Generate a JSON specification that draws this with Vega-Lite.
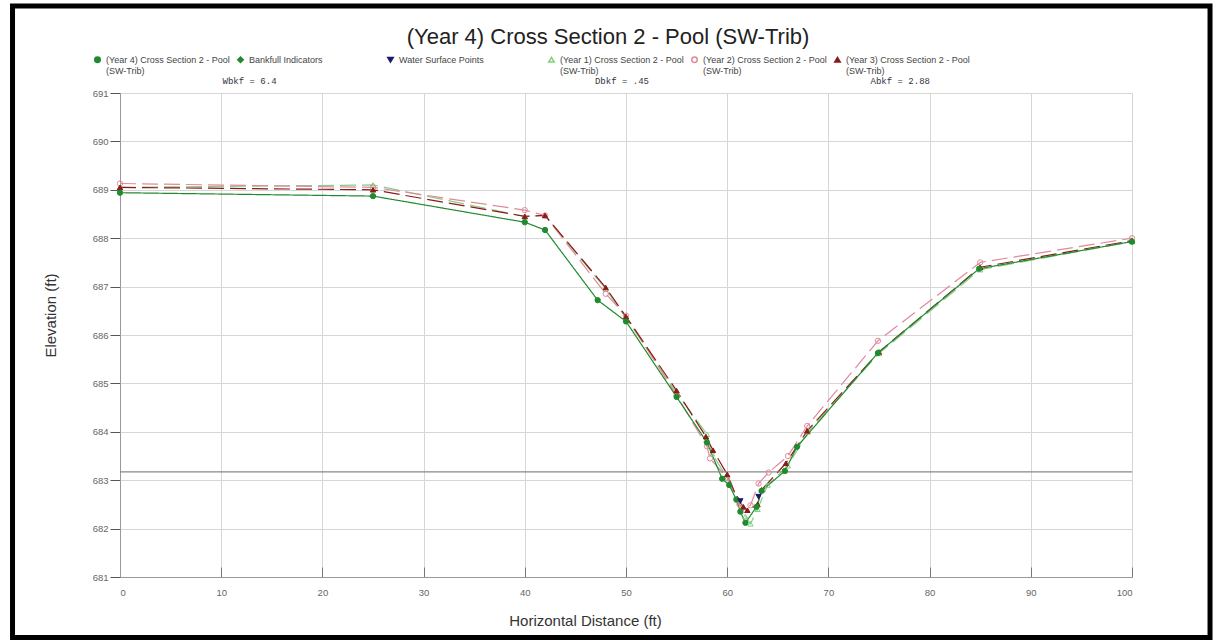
{
  "$schema": "https://vega.github.io/schema/vega-lite/v6.json",
  "width": 1012,
  "height": 484,
  "autosize": {"type": "none"},
  "padding": {"left": 120, "top": 93, "right": 86, "bottom": 65},
  "background": "white",
  "config": {"view": {"stroke": null}, "font": "Liberation Sans"},
  "title": {"text": "(Year 4) Cross Section 2 - Pool (SW-Trib)", "fontSize": 22, "fontWeight": "normal", "color": "#222", "offset": -46, "dx": -18, "anchor": "middle"},
  "datasets": {
    "pts": [
      {"series": "(Year 1) Cross Section 2 - Pool (SW-Trib)", "dist": 0, "elev": 689.05},
      {"series": "(Year 1) Cross Section 2 - Pool (SW-Trib)", "dist": 25, "elev": 689.1},
      {"series": "(Year 1) Cross Section 2 - Pool (SW-Trib)", "dist": 40, "elev": 688.45},
      {"series": "(Year 1) Cross Section 2 - Pool (SW-Trib)", "dist": 42, "elev": 688.47},
      {"series": "(Year 1) Cross Section 2 - Pool (SW-Trib)", "dist": 48, "elev": 686.95},
      {"series": "(Year 1) Cross Section 2 - Pool (SW-Trib)", "dist": 50, "elev": 686.35},
      {"series": "(Year 1) Cross Section 2 - Pool (SW-Trib)", "dist": 55, "elev": 684.8},
      {"series": "(Year 1) Cross Section 2 - Pool (SW-Trib)", "dist": 58, "elev": 683.95},
      {"series": "(Year 1) Cross Section 2 - Pool (SW-Trib)", "dist": 58.5, "elev": 683.55},
      {"series": "(Year 1) Cross Section 2 - Pool (SW-Trib)", "dist": 60, "elev": 683.05},
      {"series": "(Year 1) Cross Section 2 - Pool (SW-Trib)", "dist": 61, "elev": 682.6},
      {"series": "(Year 1) Cross Section 2 - Pool (SW-Trib)", "dist": 61.8, "elev": 682.25},
      {"series": "(Year 1) Cross Section 2 - Pool (SW-Trib)", "dist": 62.3, "elev": 682.1},
      {"series": "(Year 1) Cross Section 2 - Pool (SW-Trib)", "dist": 63, "elev": 682.4},
      {"series": "(Year 1) Cross Section 2 - Pool (SW-Trib)", "dist": 64, "elev": 682.9},
      {"series": "(Year 1) Cross Section 2 - Pool (SW-Trib)", "dist": 66, "elev": 683.3},
      {"series": "(Year 1) Cross Section 2 - Pool (SW-Trib)", "dist": 68, "elev": 684.0},
      {"series": "(Year 1) Cross Section 2 - Pool (SW-Trib)", "dist": 75, "elev": 685.62},
      {"series": "(Year 1) Cross Section 2 - Pool (SW-Trib)", "dist": 85, "elev": 687.35},
      {"series": "(Year 1) Cross Section 2 - Pool (SW-Trib)", "dist": 100, "elev": 687.93},
      {"series": "(Year 2) Cross Section 2 - Pool (SW-Trib)", "dist": 0, "elev": 689.13},
      {"series": "(Year 2) Cross Section 2 - Pool (SW-Trib)", "dist": 25, "elev": 689.05},
      {"series": "(Year 2) Cross Section 2 - Pool (SW-Trib)", "dist": 40, "elev": 688.58},
      {"series": "(Year 2) Cross Section 2 - Pool (SW-Trib)", "dist": 42, "elev": 688.47},
      {"series": "(Year 2) Cross Section 2 - Pool (SW-Trib)", "dist": 48, "elev": 686.85},
      {"series": "(Year 2) Cross Section 2 - Pool (SW-Trib)", "dist": 50, "elev": 686.4},
      {"series": "(Year 2) Cross Section 2 - Pool (SW-Trib)", "dist": 55, "elev": 684.75},
      {"series": "(Year 2) Cross Section 2 - Pool (SW-Trib)", "dist": 58, "elev": 683.7},
      {"series": "(Year 2) Cross Section 2 - Pool (SW-Trib)", "dist": 58.3, "elev": 683.45},
      {"series": "(Year 2) Cross Section 2 - Pool (SW-Trib)", "dist": 60, "elev": 683.05},
      {"series": "(Year 2) Cross Section 2 - Pool (SW-Trib)", "dist": 61.2, "elev": 682.5},
      {"series": "(Year 2) Cross Section 2 - Pool (SW-Trib)", "dist": 61.6, "elev": 682.38},
      {"series": "(Year 2) Cross Section 2 - Pool (SW-Trib)", "dist": 62.3, "elev": 682.48},
      {"series": "(Year 2) Cross Section 2 - Pool (SW-Trib)", "dist": 63.1, "elev": 682.93},
      {"series": "(Year 2) Cross Section 2 - Pool (SW-Trib)", "dist": 64.1, "elev": 683.16},
      {"series": "(Year 2) Cross Section 2 - Pool (SW-Trib)", "dist": 66, "elev": 683.5},
      {"series": "(Year 2) Cross Section 2 - Pool (SW-Trib)", "dist": 67.9, "elev": 684.12},
      {"series": "(Year 2) Cross Section 2 - Pool (SW-Trib)", "dist": 74.9, "elev": 685.88},
      {"series": "(Year 2) Cross Section 2 - Pool (SW-Trib)", "dist": 85, "elev": 687.5},
      {"series": "(Year 2) Cross Section 2 - Pool (SW-Trib)", "dist": 100, "elev": 688.0},
      {"series": "(Year 3) Cross Section 2 - Pool (SW-Trib)", "dist": 0, "elev": 689.05},
      {"series": "(Year 3) Cross Section 2 - Pool (SW-Trib)", "dist": 25, "elev": 689.0},
      {"series": "(Year 3) Cross Section 2 - Pool (SW-Trib)", "dist": 40, "elev": 688.45},
      {"series": "(Year 3) Cross Section 2 - Pool (SW-Trib)", "dist": 42, "elev": 688.47},
      {"series": "(Year 3) Cross Section 2 - Pool (SW-Trib)", "dist": 48, "elev": 686.98},
      {"series": "(Year 3) Cross Section 2 - Pool (SW-Trib)", "dist": 50, "elev": 686.38},
      {"series": "(Year 3) Cross Section 2 - Pool (SW-Trib)", "dist": 55, "elev": 684.85},
      {"series": "(Year 3) Cross Section 2 - Pool (SW-Trib)", "dist": 57.9, "elev": 683.9},
      {"series": "(Year 3) Cross Section 2 - Pool (SW-Trib)", "dist": 58.6, "elev": 683.62},
      {"series": "(Year 3) Cross Section 2 - Pool (SW-Trib)", "dist": 60, "elev": 683.12},
      {"series": "(Year 3) Cross Section 2 - Pool (SW-Trib)", "dist": 61, "elev": 682.62},
      {"series": "(Year 3) Cross Section 2 - Pool (SW-Trib)", "dist": 61.6, "elev": 682.45},
      {"series": "(Year 3) Cross Section 2 - Pool (SW-Trib)", "dist": 62, "elev": 682.38},
      {"series": "(Year 3) Cross Section 2 - Pool (SW-Trib)", "dist": 63, "elev": 682.5},
      {"series": "(Year 3) Cross Section 2 - Pool (SW-Trib)", "dist": 63.4, "elev": 682.8},
      {"series": "(Year 3) Cross Section 2 - Pool (SW-Trib)", "dist": 65.8, "elev": 683.35},
      {"series": "(Year 3) Cross Section 2 - Pool (SW-Trib)", "dist": 67.9, "elev": 684.02},
      {"series": "(Year 3) Cross Section 2 - Pool (SW-Trib)", "dist": 75, "elev": 685.65},
      {"series": "(Year 3) Cross Section 2 - Pool (SW-Trib)", "dist": 85, "elev": 687.4},
      {"series": "(Year 3) Cross Section 2 - Pool (SW-Trib)", "dist": 100, "elev": 687.95},
      {"series": "(Year 4) Cross Section 2 - Pool (SW-Trib)", "dist": 0, "elev": 688.94},
      {"series": "(Year 4) Cross Section 2 - Pool (SW-Trib)", "dist": 25, "elev": 688.87},
      {"series": "(Year 4) Cross Section 2 - Pool (SW-Trib)", "dist": 40, "elev": 688.33},
      {"series": "(Year 4) Cross Section 2 - Pool (SW-Trib)", "dist": 42, "elev": 688.17},
      {"series": "(Year 4) Cross Section 2 - Pool (SW-Trib)", "dist": 47.2, "elev": 686.72},
      {"series": "(Year 4) Cross Section 2 - Pool (SW-Trib)", "dist": 50, "elev": 686.28},
      {"series": "(Year 4) Cross Section 2 - Pool (SW-Trib)", "dist": 55, "elev": 684.72},
      {"series": "(Year 4) Cross Section 2 - Pool (SW-Trib)", "dist": 58, "elev": 683.78},
      {"series": "(Year 4) Cross Section 2 - Pool (SW-Trib)", "dist": 59.5, "elev": 683.03},
      {"series": "(Year 4) Cross Section 2 - Pool (SW-Trib)", "dist": 60.2, "elev": 682.9},
      {"series": "(Year 4) Cross Section 2 - Pool (SW-Trib)", "dist": 60.9, "elev": 682.6},
      {"series": "(Year 4) Cross Section 2 - Pool (SW-Trib)", "dist": 61.3, "elev": 682.35},
      {"series": "(Year 4) Cross Section 2 - Pool (SW-Trib)", "dist": 61.8, "elev": 682.12},
      {"series": "(Year 4) Cross Section 2 - Pool (SW-Trib)", "dist": 62.9, "elev": 682.45},
      {"series": "(Year 4) Cross Section 2 - Pool (SW-Trib)", "dist": 63.4, "elev": 682.78},
      {"series": "(Year 4) Cross Section 2 - Pool (SW-Trib)", "dist": 65.7, "elev": 683.19},
      {"series": "(Year 4) Cross Section 2 - Pool (SW-Trib)", "dist": 66.9, "elev": 683.69},
      {"series": "(Year 4) Cross Section 2 - Pool (SW-Trib)", "dist": 74.9, "elev": 685.63},
      {"series": "(Year 4) Cross Section 2 - Pool (SW-Trib)", "dist": 84.9, "elev": 687.37},
      {"series": "(Year 4) Cross Section 2 - Pool (SW-Trib)", "dist": 100, "elev": 687.93},
      {"series": "Water Surface Points", "dist": 61.3, "elev": 682.57},
      {"series": "Water Surface Points", "dist": 63.1, "elev": 682.66}
    ],
    "notes": [
      {"label": "Wbkf = 6.4", "dist": 12.8, "elev": 691.24},
      {"label": "Dbkf = .45", "dist": 49.6, "elev": 691.24},
      {"label": "Abkf = 2.88", "dist": 77.1, "elev": 691.24}
    ],
    "one": [{}]
  },
  "layer": [
    {
      "data": {"name": "pts"},
      "transform": [{"filter": "datum.series != 'Water Surface Points'"}],
      "mark": {"type": "line", "strokeWidth": 1.2},
      "encoding": {
        "x": {"field": "dist", "type": "quantitative", "scale": {"domain": [0, 100], "nice": false, "zero": false},
          "axis": {"values": [0,10,20,30,40,50,60,70,80,90,100], "grid": true, "gridColor": "#d6d6d6", "domainColor": "#999", "tickColor": "#777", "tickSize": -10, "labelPadding": 20, "labelColor": "#666", "labelFontSize": 9.5, "title": "Horizontal Distance (ft)", "titleFontSize": 15, "titleFontWeight": "normal", "titleColor": "#333", "titleX": 465, "titleY": 48, "titleBaseline": "alphabetic"}},
        "y": {"field": "elev", "type": "quantitative", "scale": {"domain": [681, 691], "nice": false, "zero": false},
          "axis": {"values": [681,682,683,684,685,686,687,688,689,690,691], "grid": true, "gridColor": "#d6d6d6", "domainColor": "#999", "tickColor": "#555", "tickSize": 10, "labelPadding": 2, "labelColor": "#666", "labelFontSize": 9.5, "title": "Elevation (ft)", "titleFontSize": 15, "titleFontWeight": "normal", "titleColor": "#333", "titleX": -70, "titleY": 222, "titleBaseline": "middle"}},
        "color": {"field": "series", "type": "nominal", "legend": null,
          "scale": {"domain": ["(Year 4) Cross Section 2 - Pool (SW-Trib)", "(Year 1) Cross Section 2 - Pool (SW-Trib)", "(Year 2) Cross Section 2 - Pool (SW-Trib)", "(Year 3) Cross Section 2 - Pool (SW-Trib)"],
            "range": ["#1f8a2e", "#86d086", "#e08a9a", "#8b1a1a"]}},
        "strokeDash": {"field": "series", "type": "nominal", "legend": null,
          "scale": {"domain": ["(Year 4) Cross Section 2 - Pool (SW-Trib)", "(Year 1) Cross Section 2 - Pool (SW-Trib)", "(Year 2) Cross Section 2 - Pool (SW-Trib)", "(Year 3) Cross Section 2 - Pool (SW-Trib)"],
            "range": [[1, 0], [16, 6], [16, 6], [16, 6]]}}
      }
    },
    {
      "data": {"name": "one"},
      "mark": {"type": "rule", "color": "#888", "strokeWidth": 1.2},
      "encoding": {"y": {"datum": 683.17}}
    },
    {
      "data": {"name": "pts"},
      "mark": {"type": "point", "size": 28, "strokeWidth": 1, "opacity": 1},
      "encoding": {
        "x": {"field": "dist", "type": "quantitative"},
        "y": {"field": "elev", "type": "quantitative"},
        "shape": {"field": "series", "type": "nominal",
          "scale": {"domain": ["(Year 4) Cross Section 2 - Pool (SW-Trib)", "Bankfull Indicators", "sp1", "sp2", "sp3", "Water Surface Points", "sp5", "sp6", "sp7", "(Year 1) Cross Section 2 - Pool (SW-Trib)", "(Year 2) Cross Section 2 - Pool (SW-Trib)", "(Year 3) Cross Section 2 - Pool (SW-Trib)"],
            "range": ["circle", "diamond", "circle", "circle", "circle", "triangle-down", "circle", "circle", "circle", "triangle-up", "circle", "triangle-up"]},
          "legend": {"orient": "none", "legendX": -27, "legendY": -38, "direction": "horizontal", "columns": 12, "title": null, "labelFontSize": 9, "labelColor": "#444", "symbolSize": 30, "columnPadding": 4, "labelOffset": 4,
            "labelExpr": "indexof(datum.label, 'sp') == 0 ? ['', ''] : indexof(datum.label, '(SW-Trib)') >= 0 ? [replace(datum.label, ' (SW-Trib)', ''), '(SW-Trib)'] : [datum.label, '']"}},
        "stroke": {"field": "series", "type": "nominal",
          "scale": {"domain": ["(Year 4) Cross Section 2 - Pool (SW-Trib)", "Bankfull Indicators", "sp1", "sp2", "sp3", "Water Surface Points", "sp5", "sp6", "sp7", "(Year 1) Cross Section 2 - Pool (SW-Trib)", "(Year 2) Cross Section 2 - Pool (SW-Trib)", "(Year 3) Cross Section 2 - Pool (SW-Trib)"],
            "range": ["#1f8a2e", "#1f8a2e", "transparent", "transparent", "transparent", "#1b1b6e", "transparent", "transparent", "transparent", "#80cf80", "#e08a9a", "#8b1a1a"]}},
        "fill": {"field": "series", "type": "nominal",
          "scale": {"domain": ["(Year 4) Cross Section 2 - Pool (SW-Trib)", "Bankfull Indicators", "sp1", "sp2", "sp3", "Water Surface Points", "sp5", "sp6", "sp7", "(Year 1) Cross Section 2 - Pool (SW-Trib)", "(Year 2) Cross Section 2 - Pool (SW-Trib)", "(Year 3) Cross Section 2 - Pool (SW-Trib)"],
            "range": ["#1f8a2e", "#1f8a2e", "transparent", "transparent", "transparent", "#1b1b6e", "transparent", "transparent", "transparent", "transparent", "transparent", "#8b1a1a"]}}
      }
    },
    {
      "data": {"name": "notes"},
      "mark": {"type": "text", "font": "Liberation Mono", "fontSize": 9, "color": "#334"},
      "encoding": {
        "x": {"field": "dist", "type": "quantitative"},
        "y": {"field": "elev", "type": "quantitative"},
        "text": {"field": "label", "type": "nominal"}
      }
    },
    {
      "data": {"name": "one"},
      "mark": {"type": "rect", "fill": "transparent", "stroke": "black", "strokeWidth": 5},
      "encoding": {
        "x": {"datum": -10.62},
        "x2": {"datum": 107.71},
        "y": {"datum": 692.8},
        "y2": {"datum": 679.75}
      }
    }
  ]
}
